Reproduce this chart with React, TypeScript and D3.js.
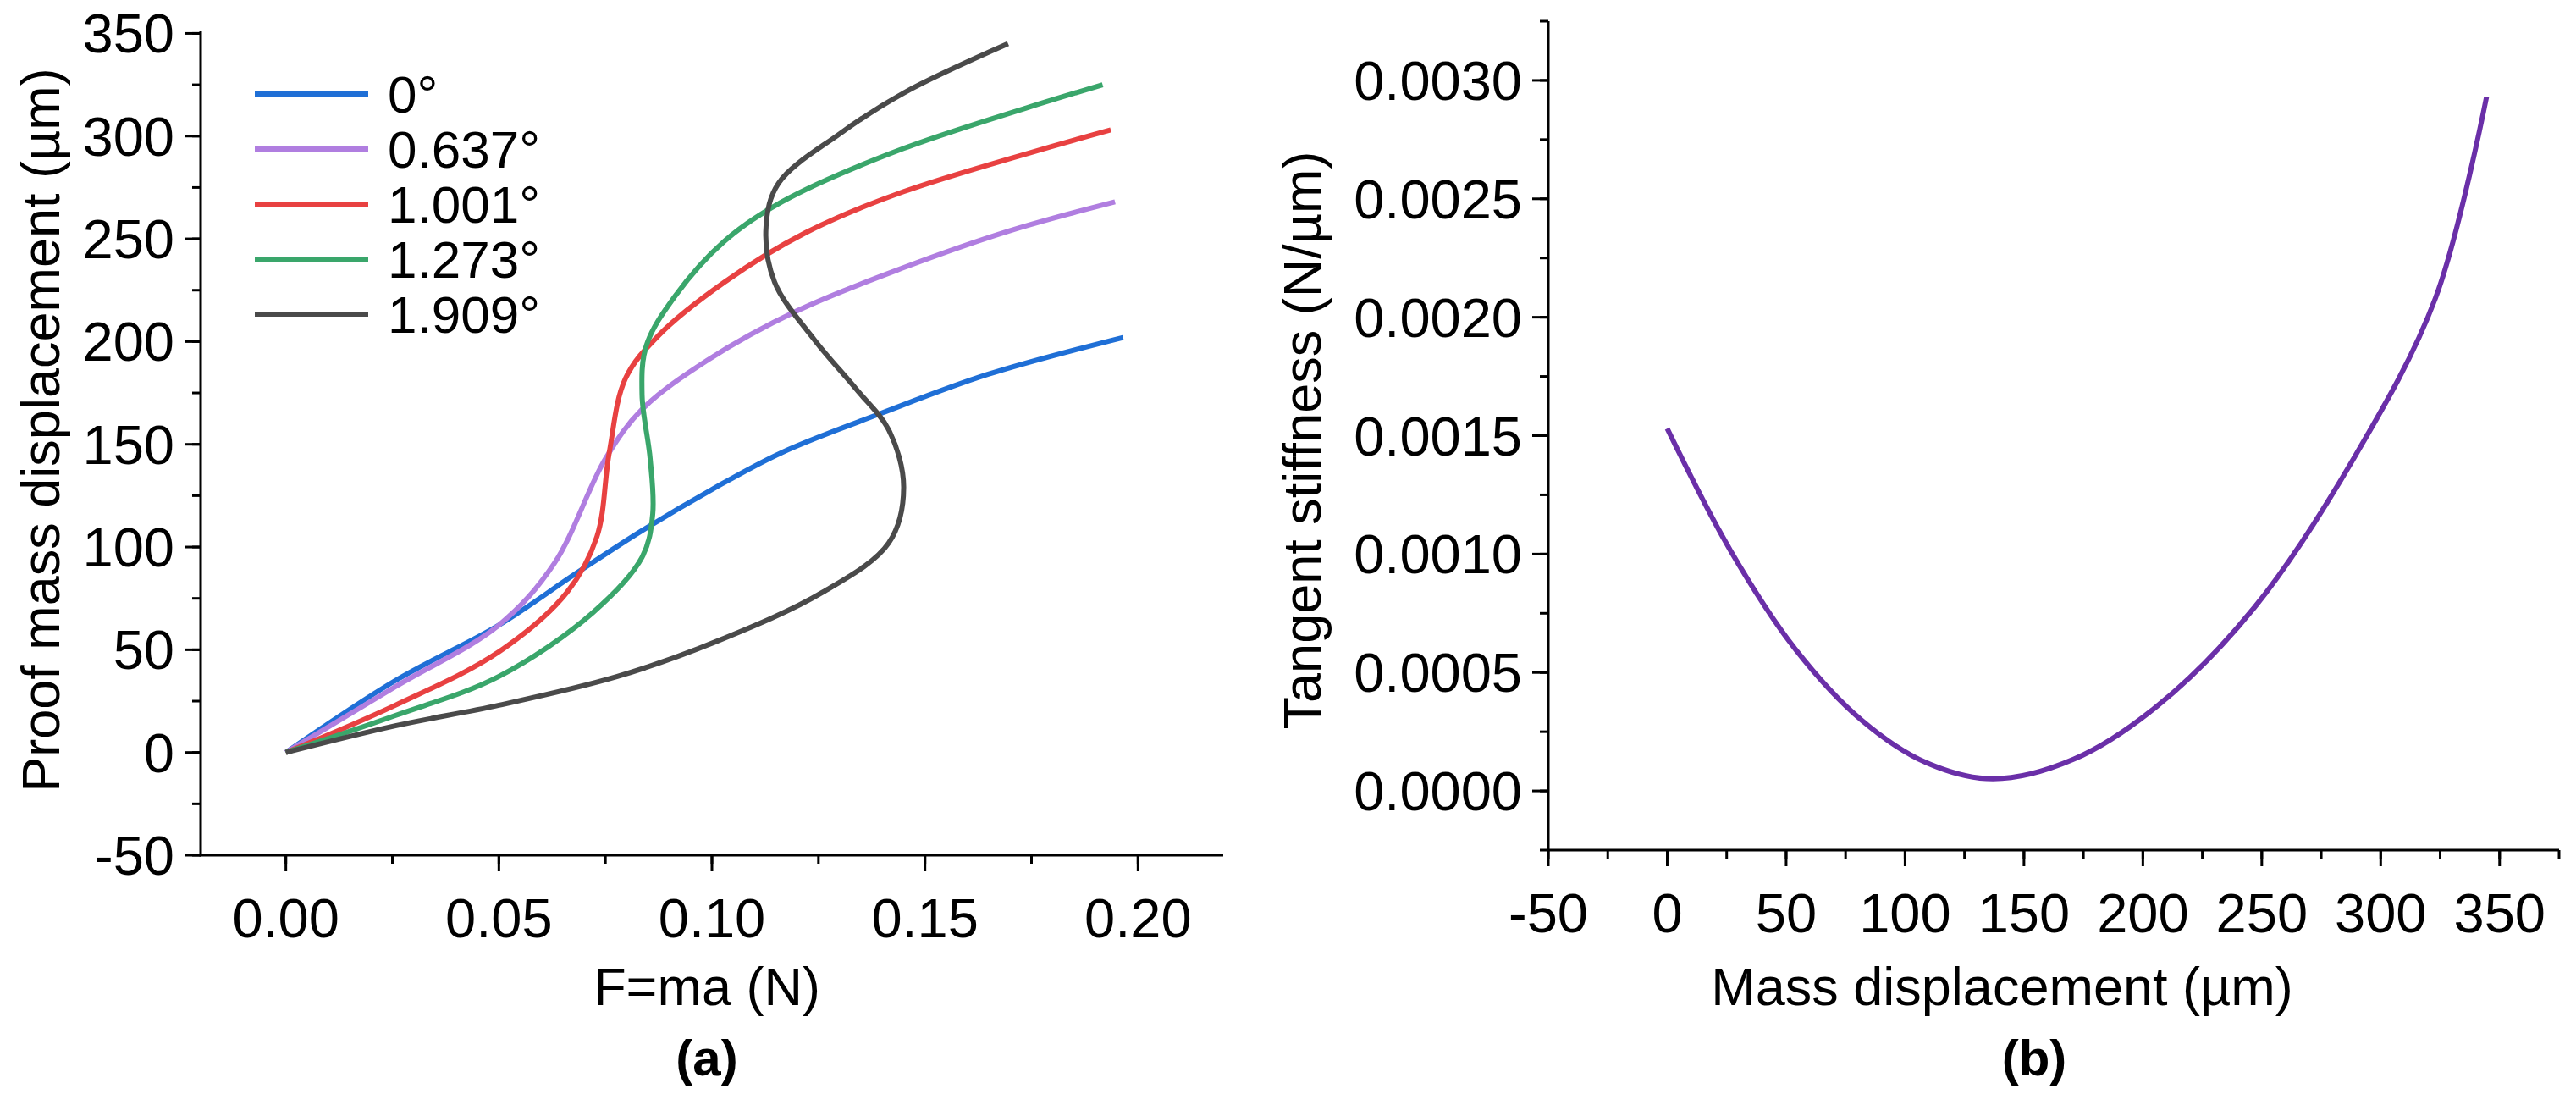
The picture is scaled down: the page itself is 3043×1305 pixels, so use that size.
import * as d3 from 'd3';
import { useEffect, useRef } from 'react';

// panel (a): force (N) vs proof mass displacement (µm)
const angleLabels = ['0°', '0.637°', '1.001°', '1.273°', '1.909°'];
const angleColors = ['#1f6fd6', '#b07ee0', '#e84141', '#3aa66b', '#4a4a4a'];

const force0 = [0, 0.0257, 0.05, 0.068, 0.0836, 0.1, 0.1164, 0.1396, 0.1647, 0.1965];
const disp0 = [0, 35, 62, 87, 108, 128, 146, 165, 184, 202];

const force1 = [0, 0.0257, 0.05, 0.063, 0.075, 0.0836, 0.099, 0.12, 0.145, 0.17, 0.1946];
const disp1 = [0, 32, 62, 92, 143, 167, 191, 215, 236, 254, 268];

const force2 = [0, 0.0257, 0.05, 0.066, 0.073, 0.0759, 0.0797, 0.0875, 0.103, 0.122, 0.145, 0.1936];
const disp2 = [0, 23, 49, 78, 105, 146, 182, 203, 229, 253, 273, 303];

const force3 = [0, 0.0257, 0.05, 0.072, 0.0836, 0.0861, 0.0855, 0.0836, 0.0846, 0.0913, 0.103, 0.1164, 0.145, 0.1917];
const disp3 = [0, 18, 37, 68, 95, 116, 143, 174, 198, 222, 249, 268, 294, 325];

const force4 = [0, 0.0257, 0.05, 0.0778, 0.101, 0.126, 0.1415, 0.145, 0.1415, 0.1338, 0.124, 0.1147, 0.1127, 0.1156, 0.1299, 0.145, 0.1695];
const disp4 = [0, 13, 23, 37, 54, 78, 102, 129, 157, 177, 201, 229, 256, 277, 301, 321, 345];

const forces = [force0, force1, force2, force3, force4];
const disps = [disp0, disp1, disp2, disp3, disp4];

// panel (b): displacement (µm) vs tangent stiffness (N/µm)
const massDisp = [0, 26.6, 54, 81.7, 109, 137, 171, 206, 247, 289, 323, 344.5];
const stiffness = [0.00153, 0.001015, 0.000597, 0.000299, 0.000119, 0.000051, 0.000134, 0.000358, 0.000776, 0.00141, 0.00208, 0.00293];

const leftTicksX = [0, 0.05, 0.1, 0.15, 0.2];
const leftTicksY = [-50, 0, 50, 100, 150, 200, 250, 300, 350];
const rightTicksX = [-50, 0, 50, 100, 150, 200, 250, 300, 350];
const rightTicksY = [0, 0.0005, 0.001, 0.0015, 0.002, 0.0025, 0.003];

const FONT = 'Liberation Sans, Arial, sans-serif';
const hyphen = (f: (v: number) => string) => (v: number) => f(v).replace('\u2212', '-');

const App = () => {
    const svgRef = useRef<SVGSVGElement | null>(null);

    useEffect(() => {
        const svg = d3.select(svgRef.current);
        svg.selectAll('*').remove();

        const drawAxes = (
            x: d3.ScaleLinear<number, number>,
            y: d3.ScaleLinear<number, number>,
            ticksX: number[], ticksY: number[],
            minorX: number, minorY: number,
            fmtX: (v: number) => string, fmtY: (v: number) => string
        ) => {
            const g = svg.append('g');
            const [x0, x1] = x.range();
            const [y0, y1] = y.range();
            g.append('line').attr('x1', x0 - 1.5).attr('x2', x1).attr('y1', y0).attr('y2', y0)
                .attr('stroke', '#000').attr('stroke-width', 3);
            g.append('line').attr('x1', x0).attr('x2', x0).attr('y1', y0).attr('y2', y1)
                .attr('stroke', '#000').attr('stroke-width', 3);
            const [dx0, dx1] = x.domain();
            const [dy0, dy1] = y.domain();
            // minor ticks
            for (let v = Math.ceil(dx0 / minorX) * minorX; v <= dx1 + 1e-12; v += minorX) {
                g.append('line').attr('x1', x(v)).attr('x2', x(v)).attr('y1', y0).attr('y2', y0 + 10)
                    .attr('stroke', '#000').attr('stroke-width', 3);
            }
            for (let v = Math.ceil(dy0 / minorY) * minorY; v <= dy1 + 1e-12; v += minorY) {
                g.append('line').attr('x1', x0).attr('x2', x0 - 10).attr('y1', y(v)).attr('y2', y(v))
                    .attr('stroke', '#000').attr('stroke-width', 3);
            }
            ticksX.forEach(v => {
                g.append('line').attr('x1', x(v)).attr('x2', x(v)).attr('y1', y0).attr('y2', y0 + 19)
                    .attr('stroke', '#000').attr('stroke-width', 3);
                g.append('text').attr('x', x(v)).attr('y', y0 + 97).attr('text-anchor', 'middle')
                    .attr('font-size', 65).attr('font-family', FONT).text(fmtX(v));
            });
            ticksY.forEach(v => {
                g.append('line').attr('x1', x0).attr('x2', x0 - 19).attr('y1', y(v)).attr('y2', y(v))
                    .attr('stroke', '#000').attr('stroke-width', 3);
                g.append('text').attr('x', x0 - 31).attr('y', y(v) + 23).attr('text-anchor', 'end')
                    .attr('font-size', 65).attr('font-family', FONT).text(fmtY(v));
            });
        };

        // ---- panel (a)
        const xa = d3.scaleLinear().domain([-0.02, 0.22]).range([237, 1445]);
        const ya = d3.scaleLinear().domain([-50, 351]).range([1010, 37]);
        drawAxes(xa, ya, leftTicksX, leftTicksY, 0.025, 25, d3.format('.2f'), hyphen(d3.format('d')));

        const lineA = d3.line<[number, number]>()
            .x(d => xa(d[0])).y(d => ya(d[1]))
            .curve(d3.curveCatmullRom.alpha(0.5));
        forces.forEach((f, i) => {
            const pts = f.map((v, j) => [v, disps[i][j]] as [number, number]);
            svg.append('path').attr('d', lineA(pts)).attr('fill', 'none')
                .attr('stroke', angleColors[i]).attr('stroke-width', 6);
        });

        const legend = svg.append('g');
        angleLabels.forEach((lab, i) => {
            const yy = 111 + i * 65;
            legend.append('line').attr('x1', 301).attr('x2', 435).attr('y1', yy).attr('y2', yy)
                .attr('stroke', angleColors[i]).attr('stroke-width', 6);
            legend.append('text').attr('x', 458).attr('y', yy + 22).attr('font-size', 62)
                .attr('font-family', FONT).text(lab);
        });

        svg.append('text').attr('x', 835).attr('y', 1187).attr('text-anchor', 'middle')
            .attr('font-size', 63).attr('font-family', FONT).text('F=ma (N)');
        svg.append('text').attr('x', 835).attr('y', 1270).attr('text-anchor', 'middle')
            .attr('font-size', 60).attr('font-weight', 'bold').attr('font-family', FONT).text('(a)');
        svg.append('text').attr('transform', 'translate(70,508) rotate(-90)').attr('text-anchor', 'middle')
            .attr('font-size', 63).attr('font-family', FONT).text('Proof mass displacement (µm)');

        // ---- panel (b)
        const xb = d3.scaleLinear().domain([-50, 375]).range([1829, 3023]);
        const yb = d3.scaleLinear().domain([-0.00025, 0.00325]).range([1004, 25]);
        drawAxes(xb, yb, rightTicksX, rightTicksY, 25, 0.00025, hyphen(d3.format('d')), d3.format('.4f'));

        const lineB = d3.line<[number, number]>()
            .x(d => xb(d[0])).y(d => yb(d[1]))
            .curve(d3.curveCatmullRom.alpha(0.5));
        svg.append('path').attr('d', lineB(massDisp.map((v, j) => [v, stiffness[j]] as [number, number])))
            .attr('fill', 'none').attr('stroke', '#6a2fa8').attr('stroke-width', 6);

        svg.append('text').attr('x', 2365).attr('y', 1187).attr('text-anchor', 'middle')
            .attr('font-size', 63).attr('font-family', FONT).text('Mass displacement (µm)');
        svg.append('text').attr('x', 2403).attr('y', 1270).attr('text-anchor', 'middle')
            .attr('font-size', 60).attr('font-weight', 'bold').attr('font-family', FONT).text('(b)');
        svg.append('text').attr('transform', 'translate(1560,520) rotate(-90)').attr('text-anchor', 'middle')
            .attr('font-size', 63).attr('font-family', FONT).text('Tangent stiffness (N/µm)');
    }, []);

    return (
        <svg ref={svgRef} width={3043} height={1305}
            style={{ position: 'absolute', left: 0, top: 0, background: '#fff' }} />
    );
};

export default App;
